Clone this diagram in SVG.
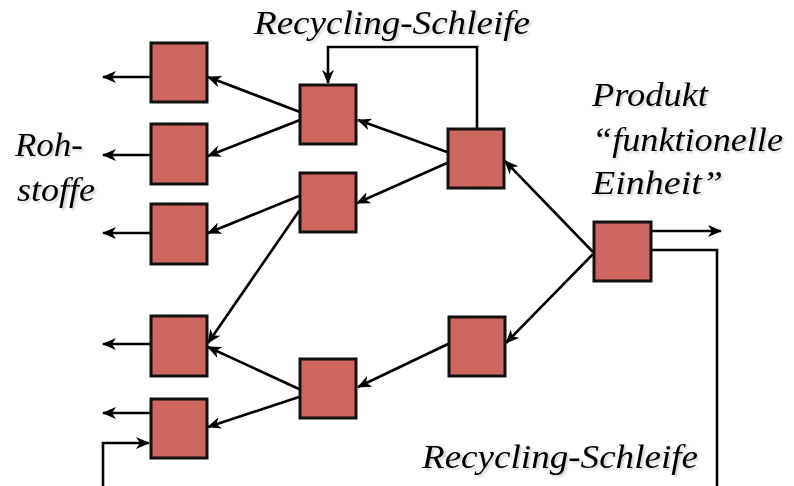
<svg xmlns="http://www.w3.org/2000/svg" width="794" height="486" viewBox="0 0 794 486">
  <defs>
    <marker id="arrow" viewBox="0 0 14 12" refX="13" refY="6" markerWidth="14" markerHeight="12" markerUnits="userSpaceOnUse" orient="auto">
      <path d="M0,0 L14,6 L0,12 L4,6 Z" fill="#000"/>
    </marker>
    <filter id="shadow" x="-5%" y="-20%" width="110%" height="140%">
      <feDropShadow dx="2" dy="2" stdDeviation="1.2" flood-color="#000" flood-opacity="0.18"/>
    </filter>
  </defs>
  <style>
    .box { fill: #CD6660; stroke: #111; stroke-width: 3; }
    .flow { fill: none; stroke: #000; stroke-width: 2.6; marker-end: url(#arrow); }
    .line { fill: none; stroke: #000; stroke-width: 2.6; }
  </style>
  <rect width="794" height="486" fill="#fff"/>

  <!-- connectors -->
  <g id="connectors">
    <path class="flow" d="M150,77 L103,77"/>
    <path class="flow" d="M150,155 L103,155"/>
    <path class="flow" d="M150,233 L103,233"/>
    <path class="flow" d="M150,344 L103,344"/>
    <path class="flow" d="M150,413 L103,413"/>
    <path class="flow" d="M103,486 L103,443 L149,443"/>
    <path class="flow" d="M300,112 L208,77"/>
    <path class="flow" d="M300,120 L208,156"/>
    <path class="flow" d="M299,196 L208,233"/>
    <path class="flow" d="M299,211 L208,343"/>
    <path class="flow" d="M299,389 L208,347"/>
    <path class="flow" d="M299,397 L208,427"/>
    <path class="flow" d="M447,152 L358,120"/>
    <path class="flow" d="M447,163 L357,203"/>
    <path class="flow" d="M477,128 L477,47 L328,47 L328,83"/>
    <path class="flow" d="M593,252 L505,161"/>
    <path class="flow" d="M593,254 L506,343"/>
    <path class="flow" d="M448,344 L358,387"/>
    <path class="flow" d="M651,231 L721,231"/>
    <path class="line" d="M651,250 L717,250 L717,486"/>
  </g>

  <!-- raw material stage -->
  <g id="a1"><rect class="box" x="151" y="43" width="56" height="59"/></g>
  <g id="a2"><rect class="box" x="151" y="124" width="56" height="60"/></g>
  <g id="a3"><rect class="box" x="151" y="204" width="56" height="60"/></g>
  <g id="a4"><rect class="box" x="151" y="316" width="56" height="60"/></g>
  <g id="a5"><rect class="box" x="151" y="399" width="56" height="59"/></g>

  <!-- intermediate stage -->
  <g id="b1"><rect class="box" x="300" y="85" width="56" height="59"/></g>
  <g id="b2"><rect class="box" x="300" y="173" width="56" height="59"/></g>
  <g id="b3"><rect class="box" x="300" y="359" width="56" height="59"/></g>

  <!-- component stage -->
  <g id="c1"><rect class="box" x="448" y="129" width="56" height="59"/></g>
  <g id="c2"><rect class="box" x="449" y="317" width="56" height="59"/></g>

  <!-- product -->
  <g id="d"><rect class="box" x="594" y="222" width="57" height="59"/></g>

  <!-- labels -->
  <g id="labels" font-family="Liberation Serif, serif" font-style="italic" font-size="34" fill="#000" filter="url(#shadow)">
    <text x="254" y="34" textLength="276" lengthAdjust="spacingAndGlyphs">Recycling-Schleife</text>
    <text x="422" y="468" textLength="276" lengthAdjust="spacingAndGlyphs">Recycling-Schleife</text>
    <text x="15" y="156" textLength="68" lengthAdjust="spacingAndGlyphs">Roh-</text>
    <text x="17" y="201" textLength="78" lengthAdjust="spacingAndGlyphs">stoffe</text>
    <text x="592" y="106" textLength="116" lengthAdjust="spacingAndGlyphs">Produkt</text>
    <text x="592" y="151" textLength="191" lengthAdjust="spacingAndGlyphs">“funktionelle</text>
    <text x="592" y="194" textLength="131" lengthAdjust="spacingAndGlyphs">Einheit”</text>
  </g>
</svg>
